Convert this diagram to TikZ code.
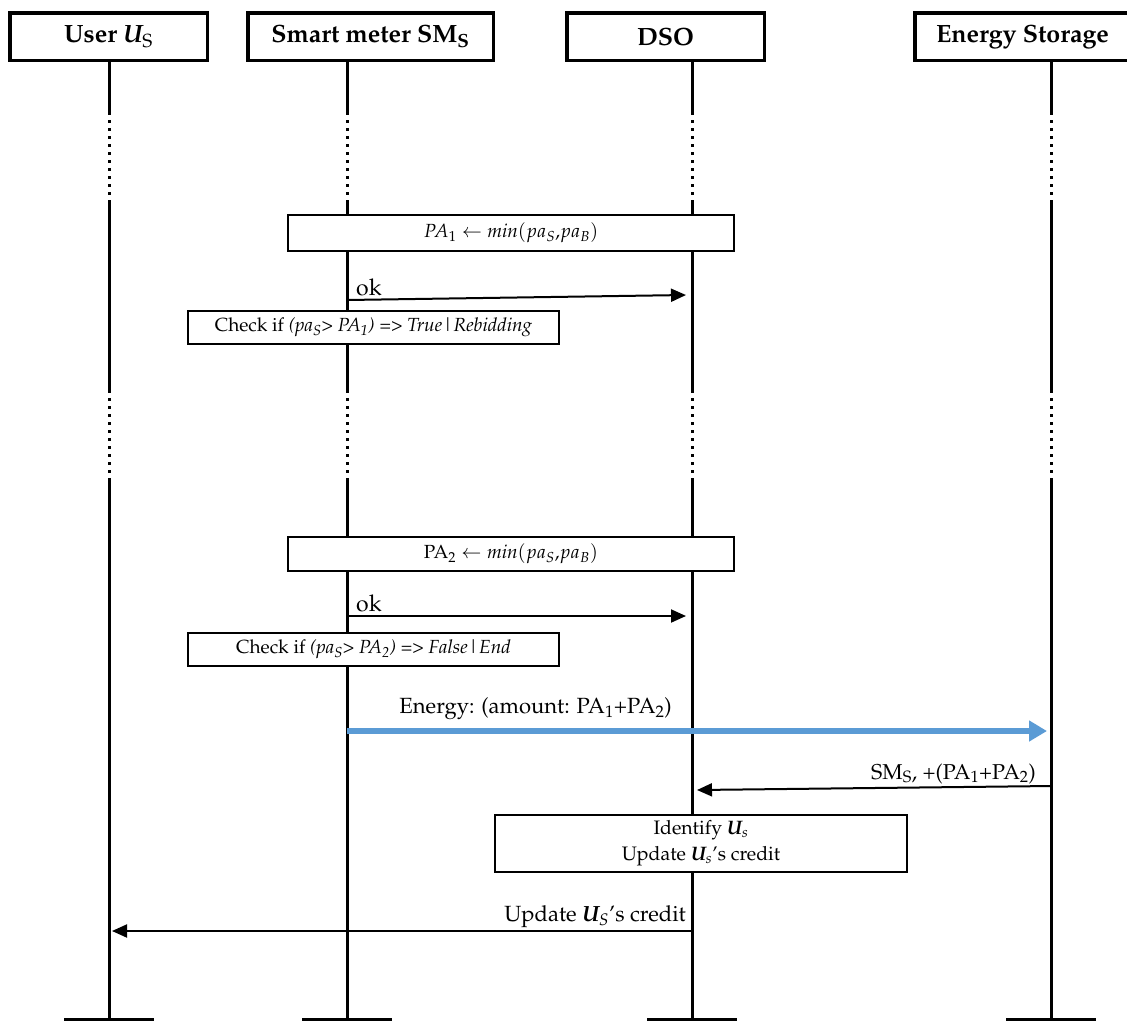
\documentclass[tikz,border=0pt]{standalone}
\usepackage[T1]{fontenc}
\usepackage{mathpazo}
\usepackage{bm}
\usetikzlibrary{arrows.meta}
\definecolor{flowblue}{RGB}{91,155,213}
\begin{document}
\begin{tikzpicture}[x=1pt,y=-1pt,
  actor/.style={draw,line width=3.5pt,fill=white,minimum height=47.5pt,inner sep=0pt,
    font=\fontsize{25}{29}\selectfont\bfseries},
  life/.style={line width=3pt},
  lifegap/.style={line width=3pt,dash pattern=on 3pt off 5pt},
  note/.style={draw,line width=2pt,fill=white,inner sep=0pt,
    font=\fontsize{19}{26}\selectfont},
  msg/.style={line width=2pt,-{Triangle[length=15pt,width=13pt]}},
  energy/.style={flowblue,line width=5.5pt,-{Triangle[length=18pt,width=20pt]}},
  msglabel/.style={font=\fontsize{22}{26}\selectfont,inner sep=0pt},
  oklabel/.style={font=\fontsize{23}{27}\selectfont,inner sep=0pt},
  endbar/.style={line width=3pt}]
\useasboundingbox (0,0) rectangle (1127,1021);
\fill[white] (0,0) rectangle (1127,1021);

% lifelines, with dotted gaps and end bars
\foreach \n/\x in {u/109,s/347,d/692,e/1051}{
  \coordinate (\n-top) at (\x,62);
  \coordinate (\n-g1) at (\x,112);
  \coordinate (\n-g2) at (\x,203);
  \coordinate (\n-g3) at (\x,390);
  \coordinate (\n-g4) at (\x,478);
  \coordinate (\n-bot) at (\x,1019.5);
  \coordinate (\n-barl) at (\x-45,1019.5);
  \coordinate (\n-barr) at (\x+45,1019.5);
  \draw[life] (\n-top) -- (\n-g1);
  \draw[lifegap] (\n-g1) -- (\n-g2);
  \draw[life] (\n-g2) -- (\n-g3);
  \draw[lifegap] (\n-g3) -- (\n-g4);
  \draw[life] (\n-g4) -- (\n-bot);
  \draw[endbar] (\n-barl) -- (\n-barr);
}

% participants
\node[actor,minimum width=197.5pt] (user) at (108.5,36.5) {User $\bm{U}_{\mathrm{S}}$};
\node[actor,minimum width=245.5pt] (meter) at (370.5,36.5) {Smart meter SM$_{\mathbf{S}}$};
\node[actor,minimum width=197.5pt] (dso) at (665.5,36.5) {DSO};
\node[actor,minimum width=215.5pt] (storage) at (1022.5,36.5) {Energy Storage};

% first bidding round
\node[note,minimum width=446pt,minimum height=36pt] (pa1) at (511,233)
  {$PA_1 \leftarrow \mathit{min}(pa_S{,}pa_B)$};
\coordinate (ok1s) at (347,300);
\coordinate (ok1e) at (686,295);
\draw[msg] (ok1s) -- (ok1e);
\node[oklabel,anchor=base west] (ok1) at (356,295) {ok};
\node[note,minimum width=371pt,minimum height=33pt] (chk1) at (373.5,327.5)
  {Check if \textit{(pa\textsubscript{S}> PA\textsubscript{1}) => True}|\textit{Rebidding}};

% second bidding round
\node[note,minimum width=446pt,minimum height=34pt] (pa2) at (511,554)
  {PA$_2 \leftarrow \mathit{min}(pa_S{,}pa_B)$};
\coordinate (ok2s) at (347,616);
\coordinate (ok2e) at (686,616);
\draw[msg] (ok2s) -- (ok2e);
\node[oklabel,anchor=base west] (ok2) at (356,611) {ok};
\node[note,minimum width=371pt,minimum height=33pt] (chk2) at (373.5,649.5)
  {Check if \textit{(pa\textsubscript{S}> PA\textsubscript{2}) => False}|\textit{End}};

% energy transfer
\coordinate (ens) at (347,731);
\coordinate (ene) at (1047,731);
\draw[energy] (ens) -- (ene);
\node[msglabel,anchor=base east] (enl) at (672,713)
  {Energy: (amount: PA\textsubscript{1}+PA\textsubscript{2})};

% storage report to DSO
\coordinate (reps) at (1051,786);
\coordinate (repe) at (697,790);
\draw[msg] (reps) -- (repe);
\node[msglabel,anchor=base east,font=\fontsize{21.5}{25}\selectfont] (repl) at (1036,779)
  {SM\textsubscript{S}, +(PA\textsubscript{1}+PA\textsubscript{2})};

% DSO bookkeeping
\node[note,minimum width=412pt,minimum height=57pt,align=center,
  font=\fontsize{19.5}{26}\selectfont] (ident) at (701,843.5)
  {Identify $\bm{U}_{s}$\\ Update $\bm{U}_{s}$'s credit};

% credit update to user
\coordinate (upds) at (692,931);
\coordinate (upde) at (112,931);
\draw[msg] (upds) -- (upde);
\node[msglabel,anchor=base east] (updl) at (686,921)
  {Update $\bm{U}_{S}$'s credit};
\end{tikzpicture}
\end{document}
